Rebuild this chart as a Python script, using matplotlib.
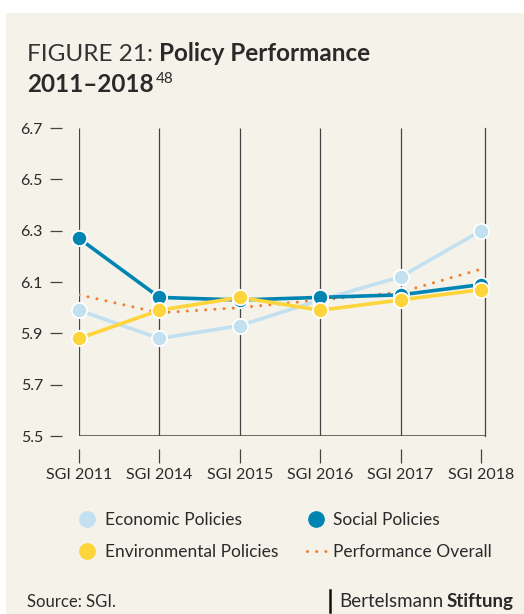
import matplotlib
matplotlib.use("Agg")
import matplotlib.pyplot as plt
from matplotlib.lines import Line2D
from matplotlib.patches import Rectangle

plt.rcParams['font.family'] = ['Lato', 'DejaVu Sans']

categories = ["SGI 2011", "SGI 2014", "SGI 2015", "SGI 2016", "SGI 2017", "SGI 2018"]
economic = [5.99, 5.88, 5.93, 6.03, 6.12, 6.30]
social = [6.27, 6.04, 6.03, 6.04, 6.05, 6.09]
environmental = [5.88, 5.99, 6.04, 5.99, 6.03, 6.07]
overall = [6.05, 5.98, 6.00, 6.03, 6.06, 6.15]
yticks = [5.5, 5.7, 5.9, 6.1, 6.3, 6.5, 6.7]

C_ECO = "#c2e0f0"
C_SOC = "#0085b2"
C_ENV = "#fdd43a"
C_ALL = "#f08030"
BG = "#f5f2ea"
DARK = "#444444"
TXT = "#2a2a2a"

W, H = 524, 614
fig = plt.figure(figsize=(W / 100, H / 100), dpi=100)
fig.patch.set_facecolor("white")
fig.patches.append(Rectangle((6 / W, 0), 1 - 6 / W, (H - 13) / H,
                             transform=fig.transFigure, facecolor=BG,
                             edgecolor="none", zorder=-10))

ax = fig.add_axes([79 / W, (H - 436) / H, 406 / W, 308 / H])
ax.set_facecolor("none")
x = list(range(len(categories)))
ax.set_xlim(0, 5.05)
ax.set_ylim(5.5, 6.7)

# vertical grid lines and frame
ax.vlines(x[:-1], 5.5, 6.7, color=DARK, lw=0.9, zorder=1)
for s in ["top", "left", "bottom"]:
    ax.spines[s].set_visible(False)
ax.spines["right"].set_color(DARK)
ax.spines["right"].set_linewidth(0.9)
ax.axhline(5.5, color=DARK, lw=1.1, zorder=1)

ax.spines["left"].set_position(("outward", 12))
ax.spines["bottom"].set_position(("outward", 9))
ax.set_yticks(yticks)
ax.set_yticklabels([f"{v:.1f}" for v in yticks])
ax.set_xticks(x)
ax.set_xticklabels(categories)
ax.tick_params(axis="y", length=9, width=0.9, color=DARK, pad=5,
               labelsize=11.5, labelcolor=TXT)
ax.tick_params(axis="x", length=10, width=0.9, color=DARK, pad=4,
               labelsize=11.5, labelcolor=TXT)

lw = 2.6
ms = 11
ax.plot(x, overall, color=C_ALL, lw=2.2, ls=(0, (0.01, 3.0)),
        dash_capstyle="round", zorder=2)
ax.plot(x, economic, color=C_ECO, lw=lw, marker="o", ms=ms,
        mec="white", mew=1.3, zorder=3, clip_on=False)
ax.plot(x, social, color=C_SOC, lw=lw, marker="o", ms=ms,
        mec="white", mew=1.3, zorder=4, clip_on=False)
ax.plot(x, environmental, color=C_ENV, lw=lw, marker="o", ms=ms,
        mec="white", mew=1.3, zorder=5, clip_on=False)

# legend
handles = [
    Line2D([], [], ls="none", marker="o", ms=11, color=C_ECO, label="Economic Policies"),
    Line2D([], [], ls="none", marker="o", ms=11, color=C_ENV, label="Environmental Policies"),
    Line2D([], [], ls="none", marker="o", ms=11, color=C_SOC, label="Social Policies"),
    Line2D([], [], color=C_ALL, lw=2.2, ls=(0, (0.01, 3.0)), dash_capstyle="round",
           label="Performance Overall"),
]
fig.legend(handles=handles, ncol=2, frameon=False, loc="upper left",
           bbox_to_anchor=(62 / W, 1 - 496 / H), fontsize=12.5,
           handlelength=1.1, handletextpad=0.45, columnspacing=1.65,
           labelspacing=0.95, labelcolor=TXT)

# title
t1 = fig.text(27 / W, 1 - 61 / H, "FIGURE 21: ", fontsize=17.5, fontweight="normal",
              color="#333333", va="baseline", ha="left")
fig.canvas.draw()
r = fig.canvas.get_renderer()
bb = t1.get_window_extent(r)
fig.text(bb.x1 / fig.bbox.width, 1 - 61 / H, "Policy Performance", fontsize=17.5,
         fontweight="bold", color=TXT, va="baseline", ha="left")
t3 = fig.text(27 / W, 1 - 92 / H, "2011\u20132018", fontsize=17.5, fontweight="bold",
              color=TXT, va="baseline", ha="left")
fig.canvas.draw()
bb3 = t3.get_window_extent(r)
fig.text(bb3.x1 / fig.bbox.width + 2 / W, 1 - 83 / H, "48", fontsize=11,
         color=TXT, va="baseline", ha="left")

# footer
fig.text(27 / W, 1 - 607 / H, "Source: SGI.", fontsize=12, color=TXT,
         va="baseline", ha="left")
fig.add_artist(Line2D([330 / W, 330 / W], [1 - 590 / H, 1 - 612 / H],
                      transform=fig.transFigure, color="#111111", lw=1.8))
t4 = fig.text(339 / W, 1 - 607 / H, "Bertelsmann", fontsize=13.5, color=TXT,
              va="baseline", ha="left")
fig.canvas.draw()
bb4 = t4.get_window_extent(r)
fig.text(bb4.x1 / fig.bbox.width + 3 / W, 1 - 607 / H, "Stiftung", fontsize=13.5,
         fontweight="bold", color=TXT, va="baseline", ha="left")

fig.savefig("out.png", dpi=100, facecolor=fig.get_facecolor())
